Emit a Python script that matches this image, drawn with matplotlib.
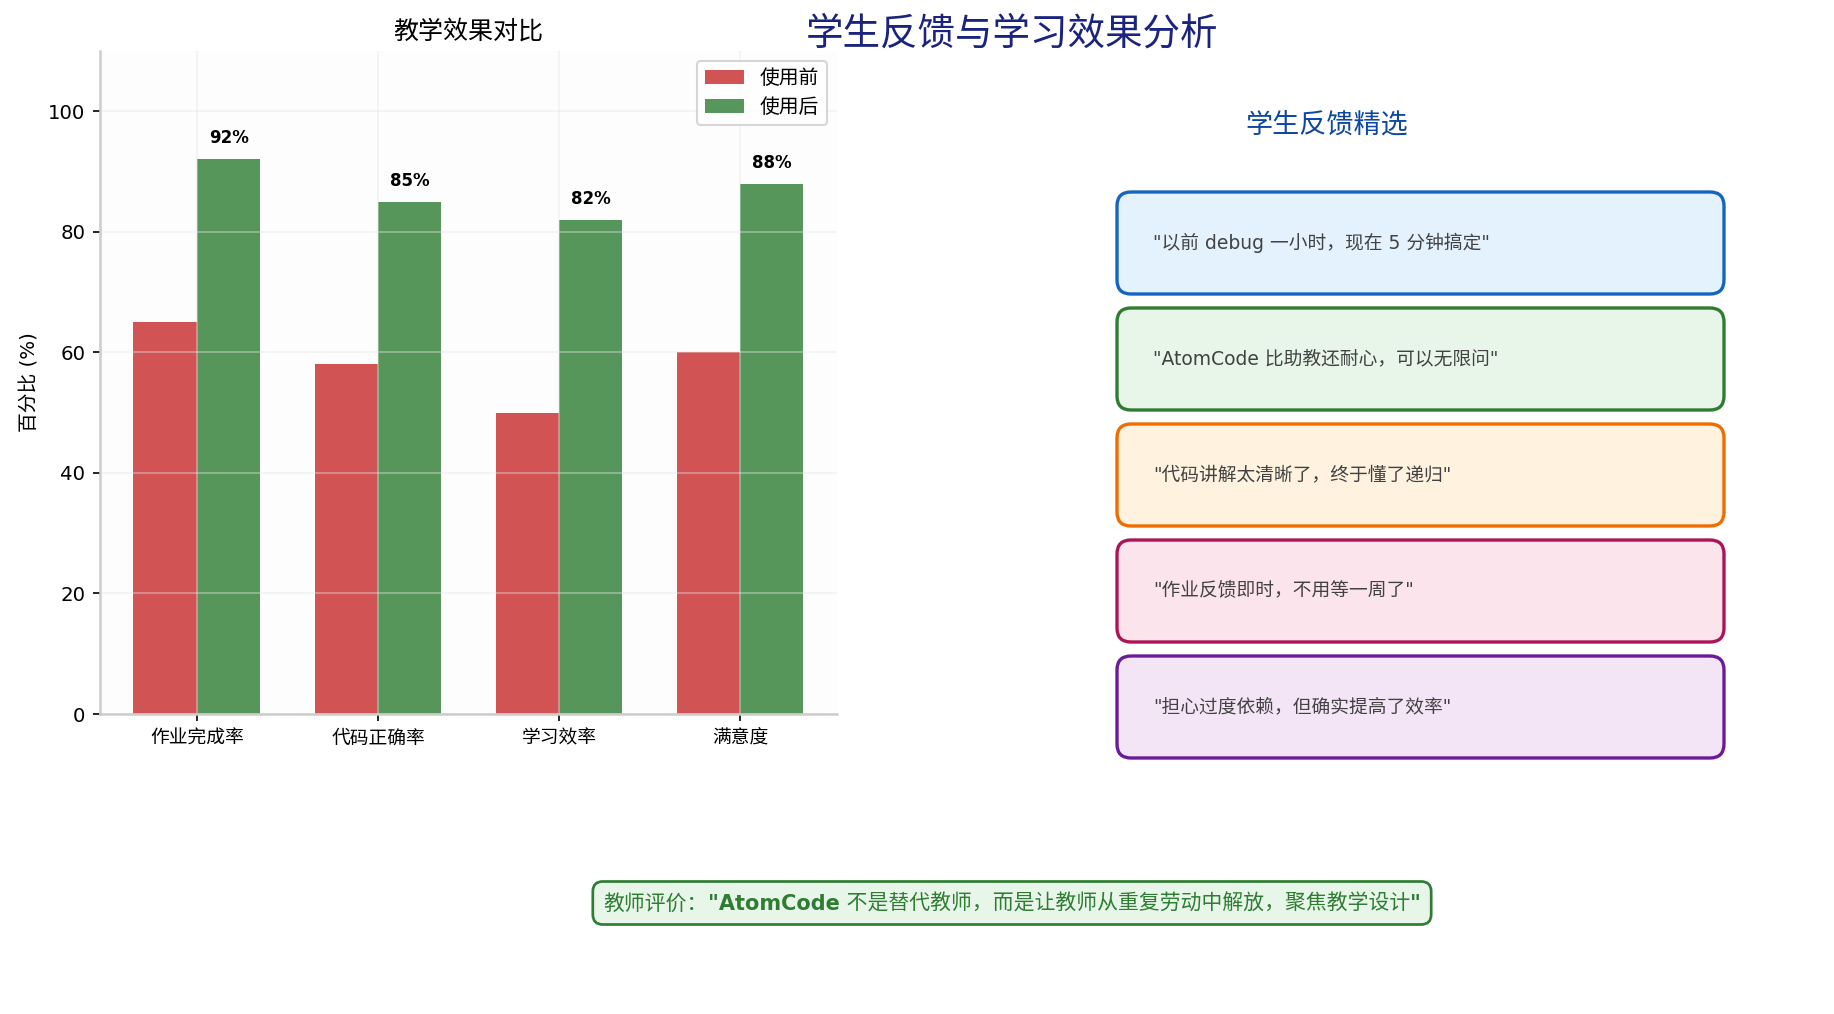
import matplotlib
matplotlib.use("Agg")
import matplotlib.pyplot as plt
import numpy as np
from matplotlib.patches import FancyBboxPatch

plt.rcParams['font.family'] = ['DejaVu Sans', 'Noto Sans CJK SC']
plt.rcParams['axes.unicode_minus'] = False

# ---- data ----
categories = ['作业完成率', '代码正确率', '学习效率', '满意度']
before = [65, 58, 50, 60]
after = [92, 85, 82, 88]
series_names = ['使用前', '使用后']
feedbacks = [
    '"以前 debug 一小时，现在 5 分钟搞定"',
    '"AtomCode 比助教还耐心，可以无限问"',
    '"代码讲解太清晰了，终于懂了递归"',
    '"作业反馈即时，不用等一周了"',
    '"担心过度依赖，但确实提高了效率"',
]
edge_colors = ['#1565c0', '#2e7d32', '#ef6c00', '#ad1457', '#6a1b9a']
face_colors = ['#e3f2fd', '#e8f5e9', '#fff3e0', '#fce4ec', '#f3e5f5']
teacher_parts = ['教师评价：', '"AtomCode', ' 不是替代教师，而是让教师从重复劳动中解放，聚焦教学设计', '"']
teacher_weights = ['normal', 'bold', 'normal', 'bold']

W, H = 1835, 1014
fig = plt.figure(figsize=(W / 150, H / 150), dpi=150)
fig.patch.set_facecolor('white')

# ---- bar chart ----
ax = fig.add_axes([100 / W, 1 - 714 / H, (837 - 100) / W, (714 - 51) / H])
ax.set_facecolor('#fdfdfd')
x = np.arange(len(categories))
w = 0.35
ax.bar(x - w / 2, before, w, color='#c62828', alpha=0.8, label=series_names[0])
b2 = ax.bar(x + w / 2, after, w, color='#2e7d32', alpha=0.8, label=series_names[1])
for rect, v in zip(b2, after):
    ax.text(rect.get_x() + rect.get_width() / 2, v + 2, f'{v}%', ha='center', va='bottom',
            fontsize=8, fontweight='bold')
ax.set_xticks(x)
ax.set_xticklabels(categories, fontsize=9)
ax.tick_params(axis='y', labelsize=9.5)
ax.set_ylim(0, 110)
ax.set_ylabel('百分比 (%)', fontsize=9.5)
ax.set_title('教学效果对比', fontsize=12)
ax.grid(True, color='#e6e6e6', alpha=0.4, linewidth=0.9)
ax.legend(loc='upper right', fontsize=9.5)
for s in ['top', 'right']:
    ax.spines[s].set_visible(False)
for s in ['left', 'bottom']:
    ax.spines[s].set_color('#cccccc')
    ax.spines[s].set_linewidth(1.2)

# ---- overlay in pixel units ----
ov = fig.add_axes([0, 0, 1, 1])
ov.set_xlim(0, W)
ov.set_ylim(H, 0)
ov.axis('off')
ov.patch.set_alpha(0)

ov.text(1012, 35, '学生反馈与学习效果分析', ha='center', va='center', fontsize=18, color='#1a237e')
ov.text(1327, 126, '学生反馈精选', ha='center', va='center', fontsize=13, color='#0d47a1')

box_x0, box_x1 = 1117, 1724
box_h = 102
top0 = 192
step = 116
for i, (txt, ec, fc) in enumerate(zip(feedbacks, edge_colors, face_colors)):
    top = top0 + i * step
    p = FancyBboxPatch((box_x0, top), box_x1 - box_x0, box_h,
                       boxstyle='round,pad=0,rounding_size=14',
                       facecolor=fc, edgecolor=ec, linewidth=1.6)
    ov.add_patch(p)
    ov.text(1153, top + box_h / 2, txt, ha='left', va='center', fontsize=9, color='#424242')

# teacher comment: latin part bold, CJK regular
cx, cy = 1012, 903
baseline = cy + 7
tobjs = [ov.text(0, baseline, s, ha='left', va='baseline', fontsize=10, fontweight=wt,
                 color='#2e7d32', zorder=5)
         for s, wt in zip(teacher_parts, teacher_weights)]
fig.canvas.draw()
r = fig.canvas.get_renderer()
widths = [t.get_window_extent(r).width for t in tobjs]
total = sum(widths)
xs = cx - total / 2
for t, wd in zip(tobjs, widths):
    t.set_x(xs)
    xs += wd
pad = 10.5
bh = 43
tb = FancyBboxPatch((cx - total / 2 - pad, cy - bh / 2), total + 2 * pad, bh,
                    boxstyle='round,pad=0,rounding_size=10',
                    facecolor='#e8f5e9', edgecolor='#2e7d32', linewidth=1.3, zorder=4)
ov.add_patch(tb)

fig.savefig('out.png', dpi=150)
